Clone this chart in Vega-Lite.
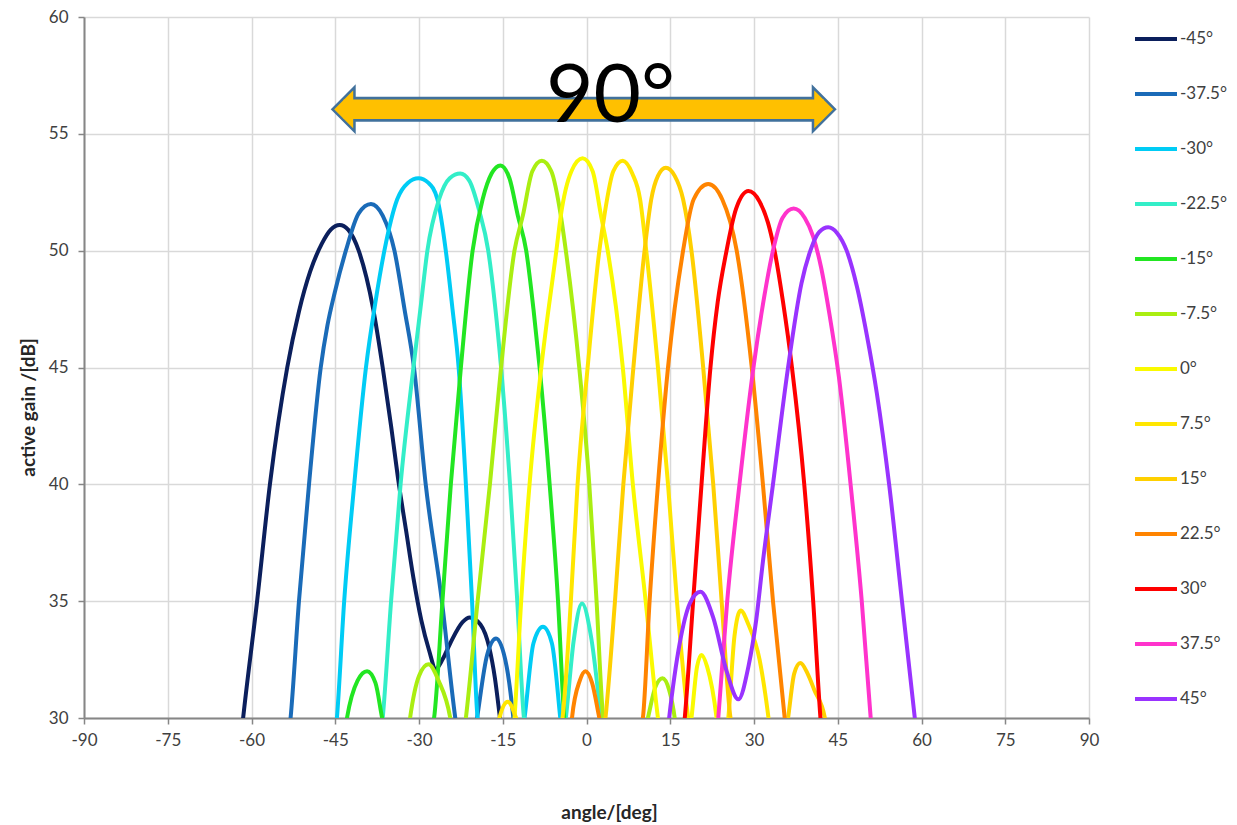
{
  "$schema": "https://vega.github.io/schema/vega-lite/v6.json",
  "width": 1005,
  "height": 701,
  "autosize": {"type": "none"},
  "padding": {"left": 84, "top": 17, "right": 148, "bottom": 107},
  "background": "white",
  "config": {
    "view": {"stroke": null},
    "font": "Lato",
    "axis": {
      "gridColor": "#d9d9d9", "gridWidth": 1.5,
      "domainColor": "#868686", "domainWidth": 2,
      "tickColor": "#868686", "tickWidth": 1.5, "tickSize": 6,
      "labelColor": "#404040", "labelFont": "Lato", "labelFontSize": 17,
      "titleColor": "#262626", "titleFont": "Lato", "titleFontSize": 19, "titleFontWeight": "bold",
      "labelFlush": false, "labelOverlap": false,
      "labelExpr": "replace(datum.label, '\u2212', '-')"
    }
  },
  "datasets": {
    "curves": [
      {"beam":"-45°","angle":-63,"gain":26.5},{"beam":"-45°","angle":-61.5,"gain":30},{"beam":"-45°","angle":-59,"gain":35},{"beam":"-45°","angle":-56.7,"gain":40},{"beam":"-45°","angle":-53.6,"gain":45},{"beam":"-45°","angle":-51.5,"gain":47.4},{"beam":"-45°","angle":-49.5,"gain":49.1},{"beam":"-45°","angle":-47.4,"gain":50.3},{"beam":"-45°","angle":-45.8,"gain":50.9},{"beam":"-45°","angle":-44.2,"gain":51.1},{"beam":"-45°","angle":-42.7,"gain":50.9},{"beam":"-45°","angle":-40.8,"gain":50},{"beam":"-45°","angle":-38.2,"gain":47.5},{"beam":"-45°","angle":-36.5,"gain":45},{"beam":"-45°","angle":-35,"gain":42.5},{"beam":"-45°","angle":-33.6,"gain":40},{"beam":"-45°","angle":-32.3,"gain":38},{"beam":"-45°","angle":-31,"gain":36},{"beam":"-45°","angle":-29.6,"gain":34.2},{"beam":"-45°","angle":-28.2,"gain":32.9},{"beam":"-45°","angle":-27,"gain":32.1},{"beam":"-45°","angle":-25.8,"gain":32.5},{"beam":"-45°","angle":-24.4,"gain":33.2},{"beam":"-45°","angle":-22.2,"gain":34.1},{"beam":"-45°","angle":-20.9,"gain":34.3},{"beam":"-45°","angle":-19,"gain":34},{"beam":"-45°","angle":-17.4,"gain":33},{"beam":"-45°","angle":-16.4,"gain":31.7},{"beam":"-45°","angle":-15.5,"gain":30},{"beam":"-45°","angle":-14,"gain":27},
      {"beam":"-37.5°","angle":-55,"gain":27},{"beam":"-37.5°","angle":-53,"gain":30},{"beam":"-37.5°","angle":-51.5,"gain":35},{"beam":"-37.5°","angle":-49.7,"gain":40},{"beam":"-37.5°","angle":-47.6,"gain":45},{"beam":"-37.5°","angle":-46.4,"gain":46.8},{"beam":"-37.5°","angle":-45.1,"gain":48.2},{"beam":"-37.5°","angle":-43.1,"gain":50},{"beam":"-37.5°","angle":-40.8,"gain":51.6},{"beam":"-37.5°","angle":-38.6,"gain":52},{"beam":"-37.5°","angle":-36.5,"gain":51.5},{"beam":"-37.5°","angle":-34.4,"gain":50},{"beam":"-37.5°","angle":-32.6,"gain":47.5},{"beam":"-37.5°","angle":-30.9,"gain":45},{"beam":"-37.5°","angle":-28.8,"gain":40},{"beam":"-37.5°","angle":-25.9,"gain":35},{"beam":"-37.5°","angle":-23.5,"gain":30},{"beam":"-37.5°","angle":-21.5,"gain":27},{"beam":"-37.5°","angle":-19.6,"gain":30},{"beam":"-37.5°","angle":-17.8,"gain":32.7},{"beam":"-37.5°","angle":-16.2,"gain":33.4},{"beam":"-37.5°","angle":-14.3,"gain":32.2},{"beam":"-37.5°","angle":-13.1,"gain":30},{"beam":"-37.5°","angle":-12,"gain":27},
      {"beam":"-30°","angle":-46.5,"gain":27},{"beam":"-30°","angle":-44.7,"gain":30},{"beam":"-30°","angle":-43.4,"gain":35},{"beam":"-30°","angle":-41.6,"gain":40},{"beam":"-30°","angle":-39.5,"gain":45},{"beam":"-30°","angle":-37.8,"gain":47.8},{"beam":"-30°","angle":-36.2,"gain":50},{"beam":"-30°","angle":-33.9,"gain":52.2},{"beam":"-30°","angle":-32,"gain":52.9},{"beam":"-30°","angle":-30.1,"gain":53.1},{"beam":"-30°","angle":-28.3,"gain":52.9},{"beam":"-30°","angle":-26.7,"gain":52.2},{"beam":"-30°","angle":-25.2,"gain":50},{"beam":"-30°","angle":-24,"gain":47.5},{"beam":"-30°","angle":-22.9,"gain":45},{"beam":"-30°","angle":-21.6,"gain":40},{"beam":"-30°","angle":-20.5,"gain":35},{"beam":"-30°","angle":-19.5,"gain":30},{"beam":"-30°","angle":-15.3,"gain":26},{"beam":"-30°","angle":-11.1,"gain":30},{"beam":"-30°","angle":-9.5,"gain":33.2},{"beam":"-30°","angle":-7.8,"gain":33.9},{"beam":"-30°","angle":-6.2,"gain":33.2},{"beam":"-30°","angle":-4.7,"gain":30},{"beam":"-30°","angle":-3.5,"gain":27},
      {"beam":"-22.5°","angle":-38.3,"gain":27},{"beam":"-22.5°","angle":-36.5,"gain":30},{"beam":"-22.5°","angle":-35,"gain":35},{"beam":"-22.5°","angle":-33.3,"gain":40},{"beam":"-22.5°","angle":-31,"gain":45},{"beam":"-22.5°","angle":-29.6,"gain":47.8},{"beam":"-22.5°","angle":-28.5,"gain":50},{"beam":"-22.5°","angle":-26.4,"gain":52.2},{"beam":"-22.5°","angle":-24.5,"gain":53.1},{"beam":"-22.5°","angle":-22.6,"gain":53.3},{"beam":"-22.5°","angle":-21,"gain":53},{"beam":"-22.5°","angle":-19.2,"gain":51.7},{"beam":"-22.5°","angle":-17.6,"gain":50},{"beam":"-22.5°","angle":-16.4,"gain":47.7},{"beam":"-22.5°","angle":-15.3,"gain":45},{"beam":"-22.5°","angle":-13.7,"gain":40},{"beam":"-22.5°","angle":-12.4,"gain":35},{"beam":"-22.5°","angle":-11.2,"gain":30},{"beam":"-22.5°","angle":-7.5,"gain":26},{"beam":"-22.5°","angle":-3.7,"gain":30},{"beam":"-22.5°","angle":-2.3,"gain":33.3},{"beam":"-22.5°","angle":-0.8,"gain":34.9},{"beam":"-22.5°","angle":0.8,"gain":33.5},{"beam":"-22.5°","angle":2.6,"gain":30},{"beam":"-22.5°","angle":4,"gain":27},
      {"beam":"-15°","angle":-44.5,"gain":27},{"beam":"-15°","angle":-42.9,"gain":30},{"beam":"-15°","angle":-41,"gain":31.6},{"beam":"-15°","angle":-39.3,"gain":32},{"beam":"-15°","angle":-37.8,"gain":31.5},{"beam":"-15°","angle":-36.6,"gain":30},{"beam":"-15°","angle":-32,"gain":26},{"beam":"-15°","angle":-27.3,"gain":30},{"beam":"-15°","angle":-25.8,"gain":35},{"beam":"-15°","angle":-24.3,"gain":40},{"beam":"-15°","angle":-22.5,"gain":45},{"beam":"-15°","angle":-20.4,"gain":50},{"beam":"-15°","angle":-18.6,"gain":52.2},{"beam":"-15°","angle":-17,"gain":53.3},{"beam":"-15°","angle":-15.4,"gain":53.65},{"beam":"-15°","angle":-13.8,"gain":53.1},{"beam":"-15°","angle":-12.3,"gain":51.5},{"beam":"-15°","angle":-10.8,"gain":50},{"beam":"-15°","angle":-9.5,"gain":47.5},{"beam":"-15°","angle":-8.4,"gain":45},{"beam":"-15°","angle":-6.6,"gain":40},{"beam":"-15°","angle":-5.1,"gain":35},{"beam":"-15°","angle":-4,"gain":30},{"beam":"-15°","angle":-2.5,"gain":27},
      {"beam":"-7.5°","angle":-33,"gain":27},{"beam":"-7.5°","angle":-31.6,"gain":30},{"beam":"-7.5°","angle":-30,"gain":31.8},{"beam":"-7.5°","angle":-28.3,"gain":32.3},{"beam":"-7.5°","angle":-26.5,"gain":31.6},{"beam":"-7.5°","angle":-24.4,"gain":30},{"beam":"-7.5°","angle":-23,"gain":27.5},{"beam":"-7.5°","angle":-21.6,"gain":30},{"beam":"-7.5°","angle":-19.5,"gain":35},{"beam":"-7.5°","angle":-17.3,"gain":40},{"beam":"-7.5°","angle":-15.3,"gain":45},{"beam":"-7.5°","angle":-12.9,"gain":50},{"beam":"-7.5°","angle":-11.4,"gain":51.5},{"beam":"-7.5°","angle":-9.7,"gain":53.4},{"beam":"-7.5°","angle":-8,"gain":53.85},{"beam":"-7.5°","angle":-6.3,"gain":53.4},{"beam":"-7.5°","angle":-4.6,"gain":51.5},{"beam":"-7.5°","angle":-3.7,"gain":50},{"beam":"-7.5°","angle":-1.3,"gain":45},{"beam":"-7.5°","angle":0.5,"gain":40},{"beam":"-7.5°","angle":1.8,"gain":35},{"beam":"-7.5°","angle":3,"gain":30},{"beam":"-7.5°","angle":7,"gain":26},{"beam":"-7.5°","angle":11,"gain":30},{"beam":"-7.5°","angle":12.3,"gain":31.3},{"beam":"-7.5°","angle":13.6,"gain":31.7},{"beam":"-7.5°","angle":14.8,"gain":31.2},{"beam":"-7.5°","angle":15.8,"gain":30},{"beam":"-7.5°","angle":17,"gain":27},
      {"beam":"0°","angle":-14.5,"gain":27},{"beam":"0°","angle":-12.9,"gain":30},{"beam":"0°","angle":-11.7,"gain":35},{"beam":"0°","angle":-10.2,"gain":40},{"beam":"0°","angle":-8.1,"gain":45},{"beam":"0°","angle":-5.4,"gain":50},{"beam":"0°","angle":-4.6,"gain":51.5},{"beam":"0°","angle":-2.7,"gain":53.4},{"beam":"0°","angle":-0.7,"gain":53.95},{"beam":"0°","angle":1.1,"gain":53.4},{"beam":"0°","angle":2.6,"gain":51.5},{"beam":"0°","angle":3.8,"gain":50},{"beam":"0°","angle":6.5,"gain":45},{"beam":"0°","angle":8.3,"gain":40},{"beam":"0°","angle":10.6,"gain":35},{"beam":"0°","angle":12.8,"gain":30},{"beam":"0°","angle":16,"gain":26},{"beam":"0°","angle":18.8,"gain":30},{"beam":"0°","angle":19.8,"gain":32.2},{"beam":"0°","angle":20.6,"gain":32.7},{"beam":"0°","angle":21.6,"gain":32.2},{"beam":"0°","angle":23.3,"gain":30},{"beam":"0°","angle":24.5,"gain":27},
      {"beam":"7.5°","angle":-16.8,"gain":27},{"beam":"7.5°","angle":-15.6,"gain":30},{"beam":"7.5°","angle":-14.1,"gain":30.7},{"beam":"7.5°","angle":-12.6,"gain":30},{"beam":"7.5°","angle":-8.5,"gain":26},{"beam":"7.5°","angle":-4.3,"gain":30},{"beam":"7.5°","angle":-2.8,"gain":35},{"beam":"7.5°","angle":-1.6,"gain":40},{"beam":"7.5°","angle":0.2,"gain":45},{"beam":"7.5°","angle":2.3,"gain":50},{"beam":"7.5°","angle":3.2,"gain":51.5},{"beam":"7.5°","angle":4.8,"gain":53.4},{"beam":"7.5°","angle":6.5,"gain":53.85},{"beam":"7.5°","angle":8.2,"gain":53.3},{"beam":"7.5°","angle":9.6,"gain":52.2},{"beam":"7.5°","angle":10.7,"gain":50},{"beam":"7.5°","angle":12.8,"gain":45},{"beam":"7.5°","angle":14.6,"gain":40},{"beam":"7.5°","angle":16.2,"gain":35},{"beam":"7.5°","angle":18.2,"gain":30},{"beam":"7.5°","angle":22,"gain":26},{"beam":"7.5°","angle":25.4,"gain":30},{"beam":"7.5°","angle":26.5,"gain":33.5},{"beam":"7.5°","angle":27.6,"gain":34.6},{"beam":"7.5°","angle":29,"gain":34},{"beam":"7.5°","angle":31,"gain":32.5},{"beam":"7.5°","angle":32.6,"gain":30},{"beam":"7.5°","angle":34,"gain":27},
      {"beam":"15°","angle":1.5,"gain":27},{"beam":"15°","angle":3.4,"gain":30},{"beam":"15°","angle":5.1,"gain":35},{"beam":"15°","angle":6.6,"gain":40},{"beam":"15°","angle":8.4,"gain":45},{"beam":"15°","angle":10.4,"gain":50},{"beam":"15°","angle":11.6,"gain":52.2},{"beam":"15°","angle":12.8,"gain":53.2},{"beam":"15°","angle":14.2,"gain":53.55},{"beam":"15°","angle":15.8,"gain":53.2},{"beam":"15°","angle":17.3,"gain":52.2},{"beam":"15°","angle":18.8,"gain":50},{"beam":"15°","angle":20.9,"gain":45},{"beam":"15°","angle":22.7,"gain":40},{"beam":"15°","angle":24.2,"gain":35},{"beam":"15°","angle":25.8,"gain":30},{"beam":"15°","angle":31,"gain":26},{"beam":"15°","angle":36.1,"gain":30},{"beam":"15°","angle":37.2,"gain":31.9},{"beam":"15°","angle":38.3,"gain":32.35},{"beam":"15°","angle":39.6,"gain":31.9},{"beam":"15°","angle":40.8,"gain":31.2},{"beam":"15°","angle":42.7,"gain":30},{"beam":"15°","angle":44,"gain":27},
      {"beam":"22.5°","angle":-3.5,"gain":27},{"beam":"22.5°","angle":-2.6,"gain":30},{"beam":"22.5°","angle":-1.2,"gain":31.6},{"beam":"22.5°","angle":-0.2,"gain":32},{"beam":"22.5°","angle":1,"gain":31.5},{"beam":"22.5°","angle":2.3,"gain":30},{"beam":"22.5°","angle":6,"gain":26},{"beam":"22.5°","angle":10.1,"gain":30},{"beam":"22.5°","angle":11.3,"gain":35},{"beam":"22.5°","angle":12.8,"gain":40},{"beam":"22.5°","angle":14.6,"gain":45},{"beam":"22.5°","angle":17.3,"gain":50},{"beam":"22.5°","angle":19.2,"gain":52.2},{"beam":"22.5°","angle":21.8,"gain":52.85},{"beam":"22.5°","angle":24.3,"gain":52.2},{"beam":"22.5°","angle":26.9,"gain":50},{"beam":"22.5°","angle":29.6,"gain":45},{"beam":"22.5°","angle":31.6,"gain":40},{"beam":"22.5°","angle":33.4,"gain":35},{"beam":"22.5°","angle":35.5,"gain":30},{"beam":"22.5°","angle":37,"gain":27},
      {"beam":"30°","angle":16,"gain":27},{"beam":"30°","angle":17.6,"gain":30},{"beam":"30°","angle":19.1,"gain":35},{"beam":"30°","angle":20.6,"gain":40},{"beam":"30°","angle":22.2,"gain":45},{"beam":"30°","angle":23.5,"gain":47.8},{"beam":"30°","angle":25,"gain":49.9},{"beam":"30°","angle":26.8,"gain":51.8},{"beam":"30°","angle":29,"gain":52.55},{"beam":"30°","angle":31,"gain":52.1},{"beam":"30°","angle":32.5,"gain":51.2},{"beam":"30°","angle":33.6,"gain":50.1},{"beam":"30°","angle":35.2,"gain":47.8},{"beam":"30°","angle":36.8,"gain":45},{"beam":"30°","angle":39,"gain":40},{"beam":"30°","angle":40.6,"gain":35},{"beam":"30°","angle":41.9,"gain":30},{"beam":"30°","angle":43,"gain":27},
      {"beam":"37.5°","angle":22.5,"gain":27},{"beam":"37.5°","angle":23.6,"gain":30},{"beam":"37.5°","angle":25.2,"gain":35},{"beam":"37.5°","angle":27.4,"gain":40},{"beam":"37.5°","angle":29.9,"gain":45},{"beam":"37.5°","angle":31.6,"gain":47.7},{"beam":"37.5°","angle":33.4,"gain":50},{"beam":"37.5°","angle":35.1,"gain":51.4},{"beam":"37.5°","angle":37.1,"gain":51.8},{"beam":"37.5°","angle":39.1,"gain":51.4},{"beam":"37.5°","angle":40.6,"gain":50.6},{"beam":"37.5°","angle":42,"gain":49.3},{"beam":"37.5°","angle":43.5,"gain":47.3},{"beam":"37.5°","angle":45.2,"gain":44.6},{"beam":"37.5°","angle":47.3,"gain":40},{"beam":"37.5°","angle":49.3,"gain":35},{"beam":"37.5°","angle":50.9,"gain":30},{"beam":"37.5°","angle":52,"gain":27},
      {"beam":"45°","angle":13.5,"gain":27},{"beam":"45°","angle":14.8,"gain":30},{"beam":"45°","angle":16.7,"gain":33.2},{"beam":"45°","angle":18.5,"gain":34.9},{"beam":"45°","angle":20.4,"gain":35.4},{"beam":"45°","angle":22.7,"gain":34.3},{"beam":"45°","angle":25.1,"gain":32},{"beam":"45°","angle":27.2,"gain":30.8},{"beam":"45°","angle":29,"gain":32.2},{"beam":"45°","angle":30.4,"gain":34.2},{"beam":"45°","angle":31.6,"gain":36.7},{"beam":"45°","angle":33.4,"gain":40},{"beam":"45°","angle":36.1,"gain":45},{"beam":"45°","angle":38.5,"gain":48.6},{"beam":"45°","angle":40.1,"gain":50},{"beam":"45°","angle":41.7,"gain":50.8},{"beam":"45°","angle":43.3,"gain":51},{"beam":"45°","angle":44.9,"gain":50.75},{"beam":"45°","angle":46.6,"gain":50},{"beam":"45°","angle":48.4,"gain":48.5},{"beam":"45°","angle":50.2,"gain":46.4},{"beam":"45°","angle":52,"gain":43.9},{"beam":"45°","angle":54.2,"gain":40},{"beam":"45°","angle":56.5,"gain":35},{"beam":"45°","angle":58.8,"gain":30},{"beam":"45°","angle":60.2,"gain":27}
    ],
    "arrow": [{"from": -45.5, "to": 44.5, "level": 56.05}],
    "heads": [{"pos": -45.5, "level": 56.05, "side": "left"}, {"pos": 44.5, "level": 56.05, "side": "right"}],
    "label": [{"pos": 4.3, "level": 55.5, "text": "90°"}]
  },
  "layer": [
    {
      "data": {"name": "curves"},
      "mark": {"type": "line", "interpolate": "monotone", "strokeWidth": 4, "clip": true},
      "encoding": {
        "x": {
          "field": "angle", "type": "quantitative",
          "scale": {"domain": [-90, 90], "nice": false, "zero": false},
          "axis": {"values": [-90,-75,-60,-45,-30,-15,0,15,30,45,60,75,90], "title": "angle/[deg]", "labelPadding": 8, "titleX": 525, "titleY": 94, "titleBaseline": "middle", "titleAlign": "center", "titleAnchor": null}
        },
        "y": {
          "field": "gain", "type": "quantitative",
          "scale": {"domain": [30, 60], "nice": false, "zero": false},
          "axis": {"values": [30,35,40,45,50,55,60], "title": "active gain /[dB]", "labelPadding": 10, "titleX": -56, "titleY": 390, "titleBaseline": "middle", "titleAlign": "center", "titleAngle": 270, "titleAnchor": null}
        },
        "color": {
          "field": "beam", "type": "nominal",
          "scale": {
            "domain": ["-45°","-37.5°","-30°","-22.5°","-15°","-7.5°","0°","7.5°","15°","22.5°","30°","37.5°","45°"],
            "range": ["#0b1f5c","#1a6bb8","#00ccf5","#33eec8","#22e622","#aaee11","#fafa00","#ffe600","#ffd000","#ff8400","#ff0000","#ff33cc","#9933ff"]
          },
          "legend": {
            "title": null, "orient": "none", "legendX": 1049, "legendY": -1,
            "symbolType": "stroke", "symbolSize": 1764, "symbolStrokeWidth": 4,
            "rowPadding": 24, "labelFontSize": 17, "labelColor": "#404040", "labelFont": "Lato",
            "labelOffset": 1, "padding": 0
          }
        }
      }
    },
    {
      "data": {"name": "arrow"},
      "transform": [{"calculate": "datum.from + 2.6", "as": "a"}, {"calculate": "datum.to - 2.6", "as": "b"}],
      "mark": {"type": "rule", "color": "#41719c", "strokeWidth": 25, "strokeCap": "butt"},
      "encoding": {
        "x": {"field": "a", "type": "quantitative"},
        "x2": {"field": "b"},
        "y": {"field": "level", "type": "quantitative"}
      }
    },
    {
      "data": {"name": "heads"},
      "transform": [{"filter": "datum.side === 'left'"}],
      "mark": {"type": "point", "shape": "M0,0 L1,-1 L1,1 Z", "size": 1936, "filled": true, "fill": "#ffc000", "stroke": "#41719c", "strokeWidth": 2.5, "opacity": 1, "strokeJoin": "miter"},
      "encoding": {
        "x": {"field": "pos", "type": "quantitative"},
        "y": {"field": "level", "type": "quantitative"}
      }
    },
    {
      "data": {"name": "heads"},
      "transform": [{"filter": "datum.side === 'right'"}],
      "mark": {"type": "point", "shape": "M0,0 L-1,-1 L-1,1 Z", "size": 1936, "filled": true, "fill": "#ffc000", "stroke": "#41719c", "strokeWidth": 2.5, "opacity": 1, "strokeJoin": "miter"},
      "encoding": {
        "x": {"field": "pos", "type": "quantitative"},
        "y": {"field": "level", "type": "quantitative"}
      }
    },
    {
      "data": {"name": "arrow"},
      "transform": [{"calculate": "datum.from + 2", "as": "a"}, {"calculate": "datum.to - 2", "as": "b"}],
      "mark": {"type": "rule", "color": "#ffc000", "strokeWidth": 19.5, "strokeCap": "butt"},
      "encoding": {
        "x": {"field": "a", "type": "quantitative"},
        "x2": {"field": "b"},
        "y": {"field": "level", "type": "quantitative"}
      }
    },
    {
      "data": {"name": "label"},
      "mark": {"type": "text", "font": "Lato", "fontSize": 82, "color": "#000000", "align": "center", "baseline": "alphabetic"},
      "encoding": {
        "x": {"field": "pos", "type": "quantitative"},
        "y": {"field": "level", "type": "quantitative"},
        "text": {"field": "text"}
      }
    }
  ]
}
